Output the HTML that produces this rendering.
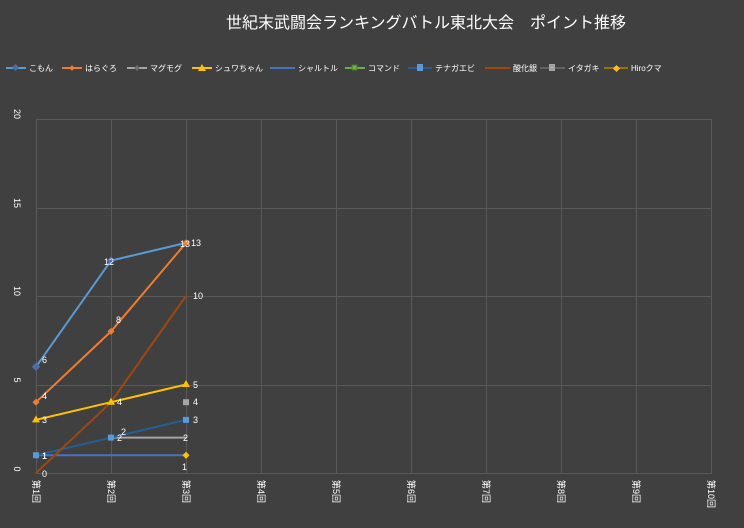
<!DOCTYPE html>
<html><head><meta charset="utf-8"><style>
html,body{margin:0;padding:0;background:#404040;}
svg{display:block;font-family:"Liberation Sans","Noto Sans CJK JP",sans-serif;}
</style></head><body>
<svg width="744" height="528" viewBox="0 0 744 528" xmlns="http://www.w3.org/2000/svg">
<rect width="744" height="528" fill="#404040"/>
<text x="426" y="28" fill="#fff" font-size="16" text-anchor="middle">世紀末武闘会ランキングバトル東北大会　ポイント推移</text>
<!-- legend -->
<g font-size="8" fill="#fff">
<line x1="6" y1="68" x2="26" y2="68" stroke="#5b9bd5" stroke-width="2"/><rect x="13" y="65" width="5" height="5" transform="rotate(45 15.5 67.5)" fill="#4a6ea8"/><text x="29" y="71">こもん</text>
<line x1="62" y1="68" x2="82" y2="68" stroke="#ed7d31" stroke-width="2"/><rect x="70" y="66" width="4" height="4" transform="rotate(45 72 68)" fill="#ed7d31"/><text x="85" y="71">はらぐろ</text>
<line x1="127" y1="68" x2="147" y2="68" stroke="#a5a5a5" stroke-width="2"/><rect x="135" y="66" width="4" height="4" transform="rotate(45 137 68)" fill="#707070"/><text x="150" y="71">マグモグ</text>
<line x1="192" y1="68" x2="212" y2="68" stroke="#ffc000" stroke-width="2"/><polygon points="202,64 206,71 198,71" fill="#ffc000"/><text x="215" y="71">シュワちゃん</text>
<line x1="270" y1="68" x2="295" y2="68" stroke="#4472c4" stroke-width="2"/><text x="298" y="71">シャルトル</text>
<line x1="345" y1="68" x2="365" y2="68" stroke="#70ad47" stroke-width="2"/><rect x="352" y="65" width="5" height="5" fill="#70ad47" stroke="#4a7a2c"/><text x="368" y="71">コマンド</text>
<line x1="408" y1="68" x2="432" y2="68" stroke="#255e91" stroke-width="2"/><rect x="417" y="64" width="6" height="7" fill="#5b9bd5"/><text x="435" y="71">テナガエビ</text>
<line x1="485" y1="68" x2="510" y2="68" stroke="#9e480e" stroke-width="2"/><text x="513" y="71">酸化銀</text>
<line x1="540" y1="68" x2="565" y2="68" stroke="#636363" stroke-width="2"/><rect x="549" y="64" width="6" height="7" fill="#a5a5a5"/><text x="568" y="71">イタガキ</text>
<line x1="604" y1="68" x2="628" y2="68" stroke="#997300" stroke-width="2"/><rect x="614" y="66" width="5" height="5" transform="rotate(45 616.5 68.5)" fill="#ffc000"/><text x="631" y="71">Hiroクマ</text>
</g>
<!-- grid -->
<g stroke="#595959" stroke-width="1">
<line x1="36" y1="119.5" x2="712" y2="119.5"/>
<line x1="36" y1="208.5" x2="712" y2="208.5"/>
<line x1="36" y1="296.5" x2="712" y2="296.5"/>
<line x1="36" y1="385.5" x2="712" y2="385.5"/>
<line x1="36" y1="473.5" x2="712" y2="473.5"/>
<line x1="36.5" y1="119" x2="36.5" y2="473"/>
<line x1="111.5" y1="119" x2="111.5" y2="473"/>
<line x1="186.5" y1="119" x2="186.5" y2="473"/>
<line x1="261.5" y1="119" x2="261.5" y2="473"/>
<line x1="336.5" y1="119" x2="336.5" y2="473"/>
<line x1="411.5" y1="119" x2="411.5" y2="473"/>
<line x1="486.5" y1="119" x2="486.5" y2="473"/>
<line x1="561.5" y1="119" x2="561.5" y2="473"/>
<line x1="636.5" y1="119" x2="636.5" y2="473"/>
<line x1="711.5" y1="119" x2="711.5" y2="473"/>
</g>
<!-- y labels rotated -->
<g fill="#fff" font-size="9" text-anchor="middle">
<text transform="translate(14,469) rotate(90)">0</text>
<text transform="translate(14,380) rotate(90)">5</text>
<text transform="translate(14,291) rotate(90)">10</text>
<text transform="translate(14,203) rotate(90)">15</text>
<text transform="translate(14,114) rotate(90)">20</text>
</g>
<g fill="#fff" font-size="9">
<text transform="translate(33,480) rotate(90)">第1回</text>
<text transform="translate(108,480) rotate(90)">第2回</text>
<text transform="translate(183,480) rotate(90)">第3回</text>
<text transform="translate(258,480) rotate(90)">第4回</text>
<text transform="translate(333,480) rotate(90)">第5回</text>
<text transform="translate(408,480) rotate(90)">第6回</text>
<text transform="translate(483,480) rotate(90)">第7回</text>
<text transform="translate(558,480) rotate(90)">第8回</text>
<text transform="translate(633,480) rotate(90)">第9回</text>
<text transform="translate(708,480) rotate(90)">第10回</text>
</g>
<!-- series: y = 473 - v*17.7 -->
<g fill="none" stroke-width="2">
<polyline points="36,455.3 186,455.3" stroke="#4472c4"/>
<polyline points="111,437.6 186,437.6" stroke="#a5a5a5"/>
<polyline points="36,455.3 111,437.6 186,419.9" stroke="#255e91"/>
<polyline points="36,473 111,402.2 186,296" stroke="#9e480e"/>
<polyline points="36,419.9 111,402.2 186,384.5" stroke="#ffc000"/>
<polyline points="36,402.2 111,331.4 186,242.9" stroke="#ed7d31"/>
<polyline points="36,366.8 111,260.6 186,242.9" stroke="#5b9bd5"/>
</g>
<!-- markers -->
<g>
<rect x="33" y="363.8" width="6" height="6" transform="rotate(45 36 366.8)" fill="#4a6ea8"/>
<rect x="108" y="257.6" width="6" height="6" transform="rotate(45 111 260.6)" fill="#4a6ea8"/>
<rect x="33.5" y="399.7" width="5" height="5" transform="rotate(45 36 402.2)" fill="#ed7d31"/>
<rect x="108.5" y="328.9" width="5" height="5" transform="rotate(45 111 331.4)" fill="#ed7d31"/>
<rect x="183.5" y="240.4" width="5" height="5" transform="rotate(45 186 242.9)" fill="#ed7d31"/>
<polygon points="36,415.4 40,422.4 32,422.4" fill="#ffc000"/>
<polygon points="111,397.7 115,404.7 107,404.7" fill="#ffc000"/>
<polygon points="186,380 190,387 182,387" fill="#ffc000"/>
<rect x="33" y="452.3" width="6" height="6" fill="#5b9bd5"/>
<rect x="108" y="434.6" width="6" height="6" fill="#5b9bd5"/>
<rect x="183" y="416.9" width="6" height="6" fill="#5b9bd5"/>
<rect x="183" y="399.2" width="6" height="6" fill="#a5a5a5"/>
<rect x="183.5" y="452.8" width="5" height="5" transform="rotate(45 186 455.3)" fill="#ffc000"/>
</g>
<!-- data labels -->
<g fill="#fff" font-size="9">
<text x="42" y="363">6</text><text x="104" y="265">12</text><text x="180" y="247">13</text>
<text x="42" y="399">4</text><text x="116" y="323">8</text><text x="191" y="246">13</text>
<text x="42" y="423">3</text><text x="117" y="405">4</text><text x="193" y="388">5</text>
<text x="42" y="459">1</text><text x="117" y="441">2</text><text x="193" y="423">3</text>
<text x="42" y="477">0</text><text x="193" y="299">10</text>
<text x="121" y="435">2</text><text x="183" y="441">2</text>
<text x="193" y="405">4</text><text x="182" y="470">1</text>
<text x="42" y="459">1</text>
</g>
</svg>
</body></html>
